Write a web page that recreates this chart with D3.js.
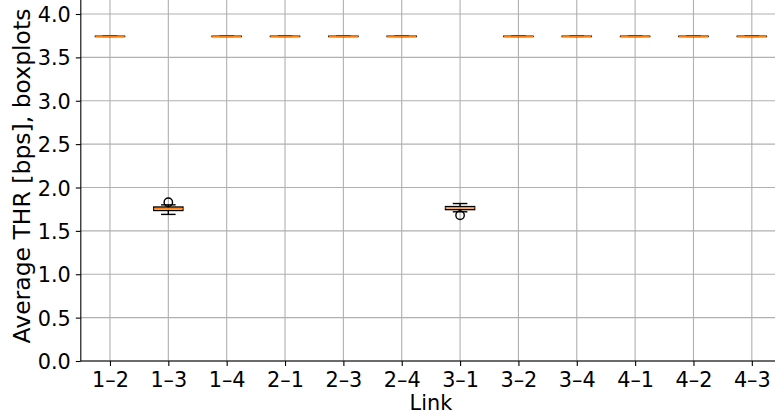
<!DOCTYPE html>
<html>
<head>
<meta charset="utf-8">
<script src="https://cdn.jsdelivr.net/npm/d3@7"></script>
<style>
  body { margin: 0; background: #fff; }
  svg { display: block; font-family: "DejaVu Sans", sans-serif; }
</style>
</head>
<body>
<svg id="chart" width="775" height="419"></svg>
<script>
// data
var links = ["1–2","1–3","1–4","2–1","2–3","2–4","3–1","3–2","3–4","4–1","4–2","4–3"];
var whiskLow  = [3.742, 1.69, 3.742, 3.742, 3.742, 3.742, 1.72, 3.742, 3.742, 3.742, 3.742, 3.742];
var q1        = [3.740, 1.735, 3.740, 3.740, 3.740, 3.740, 1.745, 3.740, 3.740, 3.740, 3.740, 3.740];
var medians   = [3.742, 1.755, 3.742, 3.742, 3.742, 3.742, 1.765, 3.742, 3.742, 3.742, 3.742, 3.742];
var q3        = [3.744, 1.775, 3.744, 3.744, 3.744, 3.744, 1.78, 3.744, 3.744, 3.744, 3.744, 3.744];
var whiskHigh = [3.744, 1.80, 3.744, 3.744, 3.744, 3.744, 1.815, 3.744, 3.744, 3.744, 3.744, 3.744];
var fliers    = [[], [1.83], [], [], [], [], [1.68], [], [], [], [], []];
var yTicks = [0, 0.5, 1.0, 1.5, 2.0, 2.5, 3.0, 3.5, 4.0];

var svg = d3.select("#chart"),
    mLeft = 80.8, mRight = 781, mTop = 14, mBottom = 361;

var x = d3.scalePoint().domain(links).range([mLeft, mRight]).padding(0.5);
var y = d3.scaleLinear().domain([0, 4]).range([mBottom, mTop]);
var step = x.step(), boxW = step * 0.5, capW = boxW * 0.5;

// grid
var grid = svg.append("g").attr("stroke", "#b0b0b0").attr("stroke-width", 1.1);
yTicks.forEach(function (t) {
    grid.append("line").attr("x1", mLeft).attr("x2", 775).attr("y1", y(t)).attr("y2", y(t));
});
links.forEach(function (l) {
    grid.append("line").attr("x1", x(l)).attr("x2", x(l)).attr("y1", 0).attr("y2", mBottom);
});

// axes
var xAxis = svg.append("g").attr("transform", "translate(0," + mBottom + ")")
    .call(d3.axisBottom(x).tickSize(5).tickPadding(6));
var yAxis = svg.append("g").attr("transform", "translate(" + mLeft + ",0)")
    .call(d3.axisLeft(y).tickValues(yTicks).tickFormat(d3.format(".1f")).tickSize(5).tickPadding(5));
[xAxis, yAxis].forEach(function (a) {
    a.attr("font-size", null).attr("font-family", null);
    a.select(".domain").remove();
    a.selectAll("line").attr("stroke", "#000").attr("stroke-width", 1.1);
    a.selectAll("text").style("font-size", "20.8px").attr("fill", "#000");
});
yAxis.selectAll("text").attr("dy", "0.36em");
// spines
svg.append("line").attr("x1", mLeft).attr("x2", mLeft).attr("y1", 0).attr("y2", mBottom)
    .attr("stroke", "#000").attr("stroke-width", 1.1);
svg.append("line").attr("x1", mLeft).attr("x2", 775).attr("y1", mBottom).attr("y2", mBottom)
    .attr("stroke", "#000").attr("stroke-width", 1.1);

// boxes
var g = svg.append("g").attr("stroke-width", 1.4).attr("fill", "none");
links.forEach(function (l, i) {
    var cx = x(l);
    g.append("rect").attr("x", cx - boxW / 2).attr("width", boxW)
        .attr("y", y(q3[i])).attr("height", Math.max(0.01, y(q1[i]) - y(q3[i])))
        .attr("stroke", "#000");
    g.append("line").attr("x1", cx).attr("x2", cx).attr("y1", y(q1[i])).attr("y2", y(whiskLow[i])).attr("stroke", "#000");
    g.append("line").attr("x1", cx).attr("x2", cx).attr("y1", y(q3[i])).attr("y2", y(whiskHigh[i])).attr("stroke", "#000");
    [whiskLow[i], whiskHigh[i]].forEach(function (v) {
        g.append("line").attr("x1", cx - capW / 2).attr("x2", cx + capW / 2)
            .attr("y1", y(v)).attr("y2", y(v)).attr("stroke", "#000");
    });
    g.append("line").attr("x1", cx - boxW / 2).attr("x2", cx + boxW / 2)
        .attr("y1", y(medians[i])).attr("y2", y(medians[i])).attr("stroke", "#ff7f0e");
    fliers[i].forEach(function (v) {
        g.append("circle").attr("cx", cx).attr("cy", y(v)).attr("r", 4.2).attr("stroke", "#000");
    });
});

// labels
svg.append("text").attr("x", (mLeft + 781) / 2).attr("y", 410)
    .attr("text-anchor", "middle").style("font-size", "20.8px").text("Link");
svg.append("text").attr("transform", "translate(30,176) rotate(-90)")
    .attr("text-anchor", "middle").style("font-size", "23.5px").text("Average THR [bps], boxplots");
</script>
</body>
</html>
